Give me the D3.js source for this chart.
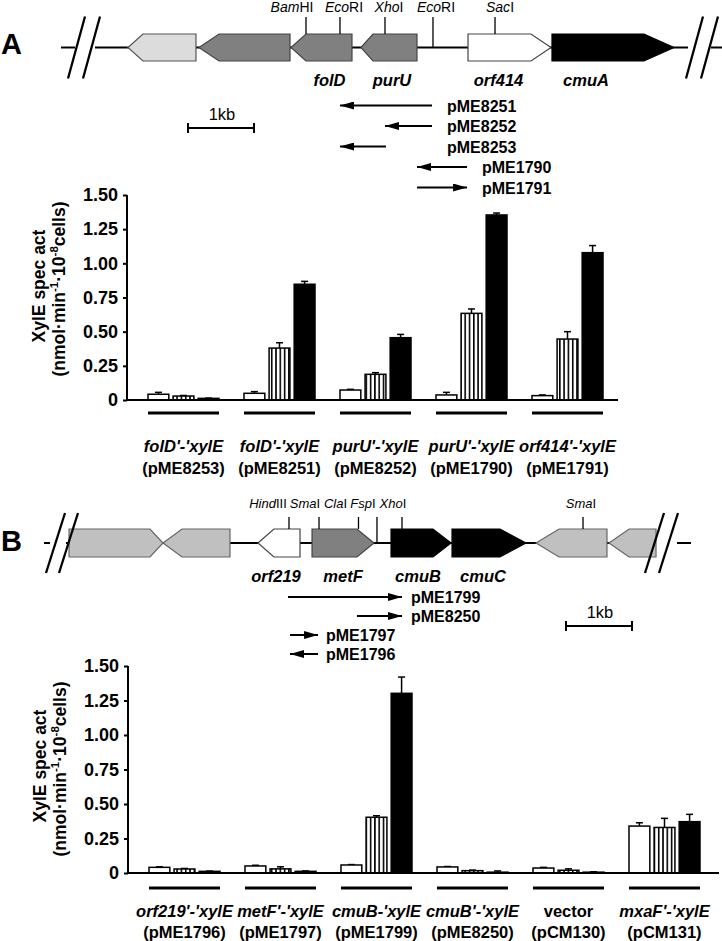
<!DOCTYPE html>
<html><head><meta charset="utf-8">
<script src="https://cdn.jsdelivr.net/npm/d3@7"></script>
<style>
html,body{margin:0;padding:0;background:#fff;}
svg{display:block;font-family:"Liberation Sans",Arial,Helvetica,sans-serif;}
</style></head>
<body>
<script>
// ---------------- DATA ----------------
// Panel A bar chart
const constructsA = ["folD'-'xylE","folD'-'xylE","purU'-'xylE","purU'-'xylE","orf414'-'xylE"];
const plasmidsA = ["(pME8253)","(pME8251)","(pME8252)","(pME1790)","(pME1791)"];
const whiteA   = [0.042,0.049,0.073,0.037,0.032];
const whiteErrA= [0.056,0.061,0.078,0.056,0.037];
const hatchA   = [0.029,0.38,0.188,0.634,0.446];
const hatchErrA= [0.033,0.419,0.20,0.666,0.50];
const blackA   = [0.012,0.847,0.456,1.354,1.078];
const blackErrA= [0.014,0.868,0.48,1.368,1.13];
// Panel B bar chart
const constructsB = ["orf219'-'xylE","metF'-'xylE","cmuB-'xylE","cmuB'-'xylE","vector","mxaF'-'xylE"];
const italicB = [true,true,true,true,false,true];
const plasmidsB = ["(pME1796)","(pME1797)","(pME1799)","(pME8250)","(pCM130)","(pCM131)"];
const whiteB   = [0.041,0.051,0.058,0.044,0.036,0.34];
const whiteErrB= [0.045,0.056,0.061,0.047,0.041,0.364];
const hatchB   = [0.029,0.030,0.404,0.017,0.020,0.33];
const hatchErrB= [0.033,0.045,0.415,0.021,0.030,0.396];
const blackB   = [0.012,0.012,1.302,0.006,0.006,0.372];
const blackErrB= [0.014,0.015,1.42,0.015,0.009,0.425];
const yTicks = [0,0.25,0.5,0.75,1.0,1.25,1.5];

// Gene maps (positions in kb along the map)
const genesA = [
  {name:"",       start:1.015, end:2.045, dir:-1, head:0.227, kind:"light"},
  {name:"",       start:2.091, end:3.470, dir:-1, head:0.303, kind:"gray"},
  {name:"folD",   start:3.485, end:4.409, dir:-1, head:0.227, kind:"gray"},
  {name:"purU",   start:4.545, end:5.394, dir:-1, head:0.182, kind:"gray"},
  {name:"orf414", start:6.167, end:7.424, dir: 1, head:0.303, kind:"white"},
  {name:"cmuA",   start:7.439, end:9.288, dir: 1, head:0.455, kind:"black"}
];
const sitesA = [
  {it:"Bam", rm:"HI", at:3.712},
  {it:"Eco", rm:"RI", at:4.227},
  {it:"Xho", rm:"I",  at:4.909},
  {it:"Eco", rm:"RI", at:5.636},
  {it:"Sac", rm:"I",  at:6.576}
];
const plasA = [
  {name:"pME8251", from:5.621, to:4.227},
  {name:"pME8252", from:5.621, to:4.909},
  {name:"pME8253", from:4.924, to:4.227},
  {name:"pME1790", from:6.152, to:5.394},
  {name:"pME1791", from:5.394, to:6.152}
];
const genesB = [
  {name:"",       start:0.379, end:1.803, dir: 1, head:0.197, kind:"lightB"},
  {name:"",       start:1.803, end:2.818, dir:-1, head:0.288, kind:"lightB"},
  {name:"orf219", start:3.242, end:3.879, dir:-1, head:0.242, kind:"white"},
  {name:"metF",   start:4.061, end:5.000, dir: 1, head:0.258, kind:"gray"},
  {name:"cmuB",   start:5.258, end:6.167, dir: 1, head:0.273, kind:"black"},
  {name:"cmuC",   start:6.182, end:7.303, dir: 1, head:0.394, kind:"black"},
  {name:"",       start:7.455, end:8.530, dir:-1, head:0.348, kind:"lightB"},
  {name:"",       start:8.561, end:9.273, dir:-1, head:0.303, kind:"lightB"}
];
const sitesB = [
  {it:"Hind", rm:"III", at:3.712},
  {it:"Sma",  rm:"I",   at:4.167},
  {it:"Cla",  rm:"I",   at:4.765},
  {it:"Fsp",  rm:"I",   at:5.045},
  {it:"Xho",  rm:"I",   at:5.424},
  {it:"Sma",  rm:"I",   at:8.167}
];
const plasB = [
  {name:"pME1799", from:3.697, to:5.424},
  {name:"pME8250", from:4.742, to:5.424},
  {name:"pME1797", from:3.727, to:4.152},
  {name:"pME1796", from:4.152, to:3.727}
];

// ---------------- LAYOUT ----------------
const W = 722, H = 941;
const svg = d3.select("body").append("svg").attr("width", W).attr("height", H);
const defs = svg.append("defs");
const pat = defs.append("pattern").attr("id","vstripe").attr("patternUnits","userSpaceOnUse")
  .attr("width",4.3).attr("height",10);
pat.append("rect").attr("width",4.3).attr("height",10).attr("fill","#fff");
pat.append("rect").attr("x",0).attr("width",1.6).attr("height",10).attr("fill","#000");
defs.append("marker").attr("id","ah").attr("viewBox","0 0 10 10").attr("refX",10).attr("refY",5)
  .attr("markerWidth",14).attr("markerHeight",8).attr("markerUnits","userSpaceOnUse").attr("orient","auto")
  .attr("preserveAspectRatio","none")
  .append("path").attr("d","M0,0L10,5L0,10Z").attr("fill","#000");

const fills = {light:"#dcdcdc", gray:"#808080", white:"#ffffff", black:"#000000", lightB:"#c0c0c0"};
const strokes = {light:"#555", gray:"#444", white:"#444", black:"#000", lightB:"#666"};

function geneMap(g, cfg) {
  const x = d3.scaleLinear().domain([0,1]).range([cfg.x0, cfg.x0 + cfg.pxPerKb]);
  const yb = cfg.yb, hh = cfg.gh/2;
  // backbone
  [[cfg.lineStart,cfg.brk1a],[cfg.brk1b,cfg.brk2a],[cfg.brk2b,cfg.lineEnd]].forEach(s =>
    g.append("line").attr("x1",s[0]).attr("x2",s[1]).attr("y1",yb).attr("y2",yb).attr("stroke","#000").attr("stroke-width",2));
  // genes
  cfg.genes.forEach(d => {
    const a = x(d.start), b = x(d.end), hd = x(d.head) - x(0);
    let pts;
    if (d.dir > 0) pts = [[a,yb-hh],[b-hd,yb-hh],[b,yb],[b-hd,yb+hh],[a,yb+hh]];
    else pts = [[a,yb],[a+hd,yb-hh],[b,yb-hh],[b,yb+hh],[a+hd,yb+hh]];
    g.append("path").attr("d","M"+pts.map(p=>p.join(",")).join("L")+"Z")
      .attr("fill",fills[d.kind]).attr("stroke",strokes[d.kind]).attr("stroke-width",1.2);
  });
  // break marks
  cfg.breaks.forEach(bx => {
    g.append("line").attr("x1",bx).attr("y1",yb+cfg.bh).attr("x2",bx+cfg.bslant).attr("y2",yb-cfg.bh)
      .attr("stroke","#000").attr("stroke-width",2.3);
  });
  // gene labels
  cfg.genes.forEach((d,i) => {
    if (!d.name) return;
    g.append("text").attr("x", x((d.start+d.end)/2) + cfg.geneDx[i]).attr("y", cfg.geneLabelY)
      .attr("text-anchor","middle").attr("font-weight","bold").attr("font-style","italic")
      .attr("font-size",16.5).text(d.name);
  });
  // sites
  cfg.sites.forEach((s,i) => {
    const sx = x(s.at);
    const onGene = cfg.genes.some(d => s.at >= d.start && s.at <= d.end);
    g.append("line").attr("x1",sx).attr("x2",sx).attr("y1",cfg.siteTop).attr("y2", onGene ? yb-hh : yb)
      .attr("stroke","#000").attr("stroke-width",1.3);
    const t = g.append("text").attr("x", sx + cfg.siteDx[i]).attr("y", cfg.siteLabelY)
      .attr("text-anchor","middle").attr("font-size",cfg.siteFs);
    t.append("tspan").attr("font-style","italic").text(s.it);
    t.append("tspan").text(s.rm);
  });
  // plasmid arrows
  cfg.plas.forEach((p,i) => {
    const y = cfg.plasY0 + i*cfg.plasDy;
    g.append("line").attr("x1",x(p.from)).attr("x2",x(p.to)).attr("y1",y).attr("y2",y)
      .attr("stroke","#000").attr("stroke-width",2).attr("marker-end","url(#ah)");
    g.append("text").attr("x", cfg.plasLabelX[i]).attr("y", y+6)
      .attr("font-weight","bold").attr("font-size",16).text(p.name);
  });
  // scale bar
  const sb = cfg.scaleBar;
  g.append("line").attr("x1",sb.x).attr("x2",sb.x+cfg.pxPerKb).attr("y1",sb.y).attr("y2",sb.y).attr("stroke","#000").attr("stroke-width",2);
  [sb.x, sb.x+cfg.pxPerKb].forEach(v => g.append("line").attr("x1",v).attr("x2",v).attr("y1",sb.y-5).attr("y2",sb.y+5).attr("stroke","#000").attr("stroke-width",2));
  g.append("text").attr("x", sb.x+cfg.pxPerKb/2+1).attr("y", sb.y-8).attr("text-anchor","middle").attr("font-size",16.5).text("1kb");
}

geneMap(svg.append("g"), {
  x0:61, pxPerKb:66, yb:47.5, gh:27, lineStart:61, lineEnd:722,
  brk1a:75, brk1b:95, brk2a:688, brk2b:711,
  breaks:[68,83,686,701], bh:31, bslant:17,
  genes:genesA, sites:sitesA, plas:plasA,
  geneDx:[0,0,8,3,-11,-27], geneLabelY:86,
  siteTop:17, siteLabelY:12, siteFs:14, siteDx:[-14,4,4,3,5],
  plasY0:105.5, plasDy:20.5, plasLabelX:[447,447,447,482,482],
  scaleBar:{x:188, y:128}
});
geneMap(svg.append("g"), {
  x0:44, pxPerKb:66, yb:543, gh:28, lineStart:44, lineEnd:691,
  brk1a:50, brk1b:66, brk2a:655, brk2b:677,
  breaks:[46,59,645,659], bh:30, bslant:19,
  genes:genesB, sites:sitesB, plas:plasB,
  geneDx:[0,0,-3,0,-3,-6,0,0], geneLabelY:582,
  siteTop:517, siteLabelY:508, siteFs:13, siteDx:[-21,-14,-23,-14,-9,-2],
  plasY0:597, plasDy:19, plasLabelX:[411,411,326,326],
  scaleBar:{x:566, y:626}
});

// panel letters
svg.append("text").attr("x",1).attr("y",54).attr("font-weight","bold").attr("font-size",29).text("A");
svg.append("text").attr("x",1).attr("y",551).attr("font-weight","bold").attr("font-size",29).text("B");

function barChart(g, cfg) {
  const y = d3.scaleLinear().domain([0,1.5]).range([cfg.y0, cfg.y1]);
  const n = cfg.names.length;
  const x0 = d3.scaleBand().domain(d3.range(n)).range([cfg.xr0, cfg.xr0 + n*96]);
  const series = ["w","h","b"];
  const x1 = d3.scaleBand().domain(series).range([12.5, 83.5]).paddingInner(0.17);
  const vals = {w:cfg.w, h:cfg.h, b:cfg.b}, errs = {w:cfg.we, h:cfg.he, b:cfg.be};
  const fillOf = {w:"#fff", h:"url(#vstripe)", b:"#000"};
  // y axis
  const ax = g.append("g").attr("transform",`translate(${cfg.axX},0)`)
    .call(d3.axisLeft(y).tickValues(yTicks).tickSize(4).tickPadding(5).tickFormat(v => v===0 ? "0" : d3.format(".2f")(v)));
  ax.select(".domain").attr("stroke-width",2).attr("d",`M0,${cfg.y1}V${cfg.y0}`);
  ax.selectAll(".tick line").attr("stroke-width",2);
  ax.selectAll(".tick text").attr("font-size",18).attr("font-weight","bold").attr("font-family","Liberation Sans, Arial, sans-serif").attr("fill","#000");
  // bars
  for (let i=0;i<n;i++) {
    series.forEach(s => {
      const bx = x0(i) + x1(s), bw = x1.bandwidth();
      const v = vals[s][i], e = errs[s][i];
      const xc = bx + bw/2;
      g.append("line").attr("x1",xc).attr("x2",xc).attr("y1",y(v)).attr("y2",y(e)).attr("stroke","#000").attr("stroke-width",1.5);
      g.append("line").attr("x1",xc-3.5).attr("x2",xc+3.5).attr("y1",y(e)).attr("y2",y(e)).attr("stroke","#000").attr("stroke-width",1.5);
      g.append("rect").attr("x",bx).attr("y",y(v)).attr("width",bw).attr("height",y(0)-y(v))
        .attr("fill",fillOf[s]).attr("stroke","#000").attr("stroke-width",1.5);
    });
    // underline
    g.append("line").attr("x1",x0(i)+12.5).attr("x2",x0(i)+83.5).attr("y1",cfg.ulY).attr("y2",cfg.ulY).attr("stroke","#000").attr("stroke-width",3);
    const cx = x0(i)+48;
    g.append("text").attr("x",cx).attr("y",cfg.l1Y).attr("text-anchor","middle").attr("font-weight","bold")
      .attr("font-style", cfg.ital[i] ? "italic" : "normal").attr("font-size",16.5).text(cfg.names[i]);
    g.append("text").attr("x",cx).attr("y",cfg.l2Y).attr("text-anchor","middle").attr("font-weight","bold")
      .attr("font-size",16.5).text(cfg.plasmids[i]);
  }
  // x baseline
  g.append("line").attr("x1",cfg.axX).attr("x2",cfg.axEnd).attr("y1",cfg.y0).attr("y2",cfg.y0).attr("stroke","#000").attr("stroke-width",2);
  // y label
  g.append("text").attr("transform",`translate(${cfg.lab1X},${cfg.labY}) rotate(-90)`).attr("text-anchor","middle")
    .attr("font-weight","bold").attr("font-size",17.5).text("XylE spec act");
  const yl2 = g.append("text").attr("transform",`translate(${cfg.lab2X},${cfg.labY+3}) rotate(-90)`).attr("text-anchor","middle")
    .attr("font-weight","bold").attr("font-size",17.5);
  yl2.append("tspan").text("(nmol·min");
  yl2.append("tspan").attr("font-size",11.5).attr("dy",-7).text("-1");
  yl2.append("tspan").attr("dy",7).text("·10");
  yl2.append("tspan").attr("font-size",11.5).attr("dy",-7).text("-8");
  yl2.append("tspan").attr("dy",7).text("cells)");
}

barChart(svg.append("g"), {
  y0:400, y1:195, xr0:135.5, axX:127, axEnd:618,
  names:constructsA, ital:constructsA.map(()=>true), plasmids:plasmidsA,
  w:whiteA, we:whiteErrA, h:hatchA, he:hatchErrA, b:blackA, be:blackErrA,
  ulY:413, l1Y:452, l2Y:474, lab1X:45, lab2X:65, labY:286
});
barChart(svg.append("g"), {
  y0:873, y1:666, xr0:136.5, axX:128, axEnd:719,
  names:constructsB, ital:italicB, plasmids:plasmidsB,
  w:whiteB, we:whiteErrB, h:hatchB, he:hatchErrB, b:blackB, be:blackErrB,
  ulY:888, l1Y:917, l2Y:938, lab1X:46, lab2X:66, labY:766
});
</script>
</body></html>
